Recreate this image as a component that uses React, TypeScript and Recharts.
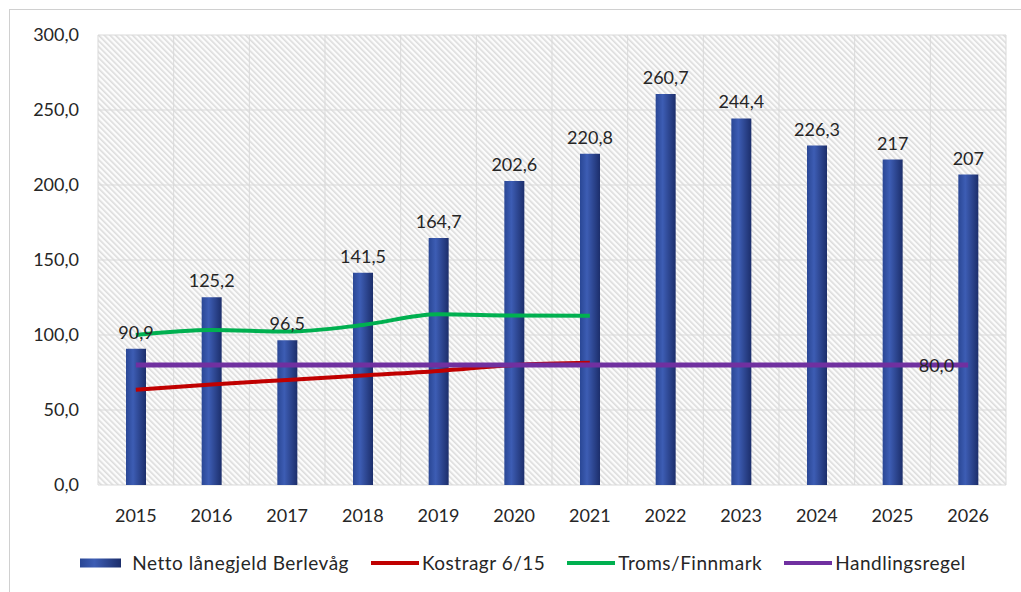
import React from 'react';
import {
  ComposedChart,
  Bar,
  Line,
  XAxis,
  YAxis,
  CartesianGrid,
  Legend,
  LabelList
} from 'recharts';

const years = ['2015', '2016', '2017', '2018', '2019', '2020', '2021', '2022', '2023', '2024', '2025', '2026'];
const lanegjeld = [90.9, 125.2, 96.5, 141.5, 164.7, 202.6, 220.8, 260.7, 244.4, 226.3, 217, 207];
const lanegjeldLabels = ['90,9', '125,2', '96,5', '141,5', '164,7', '202,6', '220,8', '260,7', '244,4', '226,3', '217', '207'];
const kostragr = [63.5, 67, 70, 73, 76, 80, 81.5, null, null, null, null, null];
const tromsFinnmark = [100, 103.3, 102.3, 106.7, 113.8, 113, 112.8, null, null, null, null, null];
const handlingsregel = [80, 80, 80, 80, 80, 80, 80, 80, 80, 80, 80, 80];
const yTicks = [0, 50, 100, 150, 200, 250, 300];
const edgeTicks = [0, 1, 2, 3, 4, 5, 6, 7, 8, 9, 10, 11, 12];

const data = years.map((year, i) => ({
  year,
  lanegjeld: lanegjeld[i],
  label: lanegjeldLabels[i],
  kostragr: kostragr[i],
  troms: tromsFinnmark[i],
  regel: handlingsregel[i]
}));

const FONT = 'Lato, "Open Sans", sans-serif';
const TEXT = '#262626';

const legendItems = [
  { name: 'Netto lånegjeld Berlevåg', kind: 'bar', color: 'url(#barFill)' },
  { name: 'Kostragr 6/15', kind: 'line', color: '#c00000' },
  { name: 'Troms/Finnmark', kind: 'line', color: '#00b050' },
  { name: 'Handlingsregel', kind: 'line', color: '#7030a0' }
];

const CustomLegend: React.FC<any> = () => (
  <div style={{ height: 50, display: 'flex', justifyContent: 'center', alignItems: 'flex-start', paddingTop: 9, paddingLeft: 62, boxSizing: 'border-box' }}>
    {legendItems.map((item) => (
      <div key={item.name} style={{ display: 'flex', alignItems: 'center', marginRight: 22, fontFamily: FONT, fontSize: 19, letterSpacing: 0.5, color: TEXT }}>
        <svg width={item.kind === 'bar' ? 41 : 48} height={12} style={{ marginRight: item.kind === 'bar' ? 11 : 3 }}>
          {item.kind === 'bar' ? (
            <rect x={0} y={1.5} width={41} height={9} fill="url(#barFill)" />
          ) : (
            <line x1={0} y1={6} x2={48} y2={6} stroke={item.color} strokeWidth={4} />
          )}
        </svg>
        <span>{item.name}</span>
      </div>
    ))}
  </div>
);

const RegelLabel: React.FC<any> = ({ x, y, index }) => {
  if (index !== handlingsregel.length - 1) return null;
  return (
    <text x={x - 14} y={y} textAnchor="end" dominantBaseline="central" fontFamily={FONT} fontSize={18} fill={TEXT}>
      {handlingsregel[index].toFixed(1).replace('.', ',')}
    </text>
  );
};

const gridX = ({ offset }: any) =>
  edgeTicks.map((t) => offset.left + (offset.width * t) / years.length);

export default function App() {
  return (
    <div style={{ position: 'relative', width: 1021, height: 592, overflow: 'hidden', background: '#fff' }}>
      <style>{'body{margin:0;overflow:hidden}'}</style>
      <svg width={0} height={0} style={{ position: 'absolute' }}>
        <defs>
          <pattern id="hatch" patternUnits="userSpaceOnUse" width={4} height={4} patternTransform="rotate(-45)">
            <rect width={4} height={4} fill="#fcfcfc" />
            <rect width={1.6} height={4} fill="#dcdcdc" />
          </pattern>
          <linearGradient id="barFill" x1="0" y1="0" x2="1" y2="0">
            <stop offset="0%" stopColor="#2a4795" />
            <stop offset="35%" stopColor="#3d5db4" />
            <stop offset="100%" stopColor="#1c2e6b" />
          </linearGradient>
        </defs>
      </svg>
      <div style={{ position: 'absolute', left: 9, top: 9, width: 1100, height: 700, border: '1px solid #d0d0d0' }} />
      <div style={{ position: 'absolute', left: 0, top: 0 }}>
        <ComposedChart width={1021} height={592} data={data} margin={{ top: 35, right: 15, left: 0, bottom: 0 }}>
          <XAxis
            xAxisId="edge"
            type="number"
            domain={[0, 12]}
            ticks={edgeTicks}
            allowDataOverflow
            height={0}
            tick={() => <g />}
            tickSize={6}
            tickLine={{ stroke: '#d0d0d0' }}
            axisLine={{ stroke: '#bfbfbf' }}
          />
          <XAxis
            xAxisId="cat"
            dataKey="year"
            height={57}
            axisLine={false}
            tickLine={false}
            tickSize={0}
            tickMargin={24}
            tick={{ fontFamily: FONT, fontSize: 18, fill: TEXT }}
          />
          <YAxis
            domain={[0, 300]}
            ticks={yTicks}
            width={98}
            axisLine={false}
            tickLine={false}
            tickSize={0}
            tickMargin={19}
            tickFormatter={(v: number) => v.toFixed(1).replace('.', ',')}
            tick={{ fontFamily: FONT, fontSize: 18, fill: TEXT }}
          />
          <CartesianGrid xAxisId="cat" stroke="#d9d9d9" fill="url(#hatch)" fillOpacity={1} verticalCoordinatesGenerator={gridX} />
          <Legend verticalAlign="bottom" content={<CustomLegend />} />
          <Bar xAxisId="cat" dataKey="lanegjeld" name="Netto lånegjeld Berlevåg" fill="url(#barFill)" barSize={20} isAnimationActive={false}>
            <LabelList dataKey="label" position="top" offset={10} fontFamily={FONT} fontSize={18} fill={TEXT} />
          </Bar>
          <Line xAxisId="cat" type="monotone" dataKey="kostragr" name="Kostragr 6/15" stroke="#c00000" strokeWidth={4} dot={false} isAnimationActive={false} />
          <Line xAxisId="cat" type="monotone" dataKey="troms" name="Troms/Finnmark" stroke="#00b050" strokeWidth={4} dot={false} isAnimationActive={false} />
          <Line xAxisId="cat" type="monotone" dataKey="regel" name="Handlingsregel" stroke="#7030a0" strokeWidth={5} dot={false} isAnimationActive={false}>
            <LabelList dataKey="regel" content={<RegelLabel />} />
          </Line>
        </ComposedChart>
      </div>
    </div>
  );
}
